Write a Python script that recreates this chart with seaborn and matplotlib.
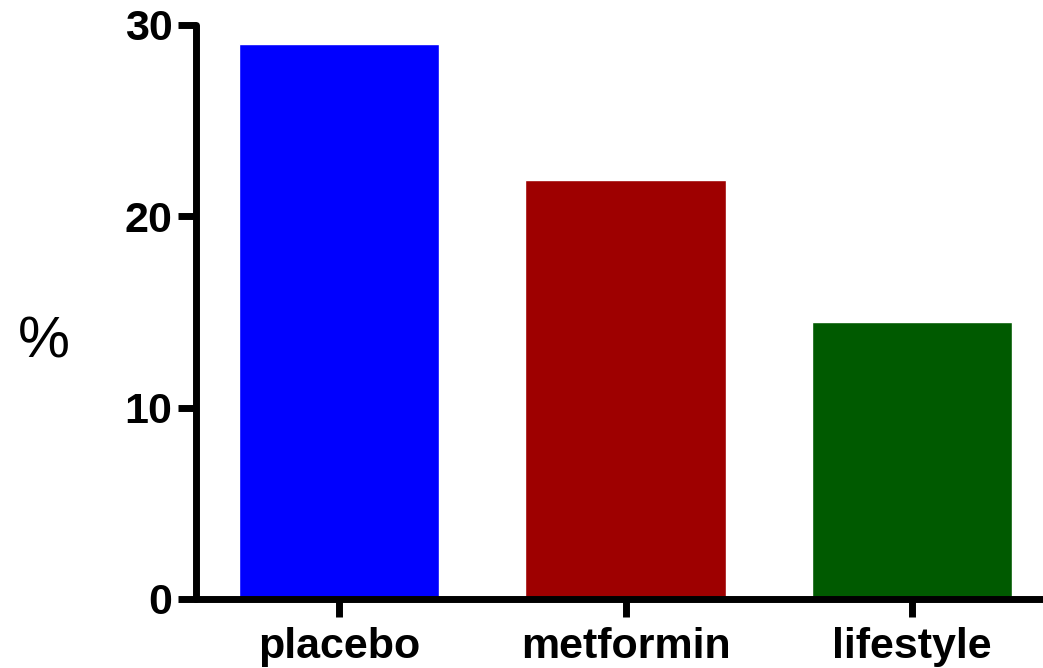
import pandas as pd
import matplotlib
matplotlib.use('Agg')
import matplotlib.pyplot as plt
import seaborn as sns

# Veriler
groups = ['placebo', 'metformin', 'lifestyle']
percent = [29.0, 21.9, 14.5]
bar_colors = ['#0000FF', '#9E0000', '#005A00']
y_ticks = [0, 10, 20, 30]

sns.set_style('white')
plt.rcParams['font.family'] = ['Liberation Sans', 'DejaVu Sans']
plt.rcParams['text.color'] = 'black'
plt.rcParams['xtick.color'] = 'black'
plt.rcParams['ytick.color'] = 'black'
plt.rcParams['axes.labelcolor'] = 'black'

df = pd.DataFrame({'group': groups, 'percent': percent})

fig = plt.figure(figsize=(10.43, 6.68), dpi=100)
ax = fig.add_axes([0.188, 0.1033, 0.812, 0.8593])

sns.barplot(data=df, x='group', y='percent', hue='group', palette=bar_colors,
            width=0.70, saturation=1, legend=False, ax=ax)

ax.set_xlim(-0.499, 2.457)
ax.set_ylim(0, 30)
ax.set_yticks(y_ticks)

for side in ['top', 'right']:
    ax.spines[side].set_visible(False)
for side in ['left', 'bottom']:
    ax.spines[side].set_linewidth(5)
    ax.spines[side].set_color('black')
    ax.spines[side].set_capstyle('round')

ax.tick_params(axis='both', direction='out', length=13, width=5, colors='black',
               labelsize=31, pad=4, bottom=True, left=True)
ax.tick_params(axis='x', pad=7)
for lbl in ax.get_xticklabels() + ax.get_yticklabels():
    lbl.set_fontweight('bold')

ax.set_xlabel('')
ax.set_ylabel('%', fontsize=42, rotation=0, labelpad=0, color='black')
ax.yaxis.set_label_coords((44 - 196) / (0.812 * 1043), (599 - 343) / (0.8593 * 668))
ax.yaxis.label.set_verticalalignment('center')
ax.yaxis.label.set_horizontalalignment('center')

fig.savefig('out.png', dpi=100)
